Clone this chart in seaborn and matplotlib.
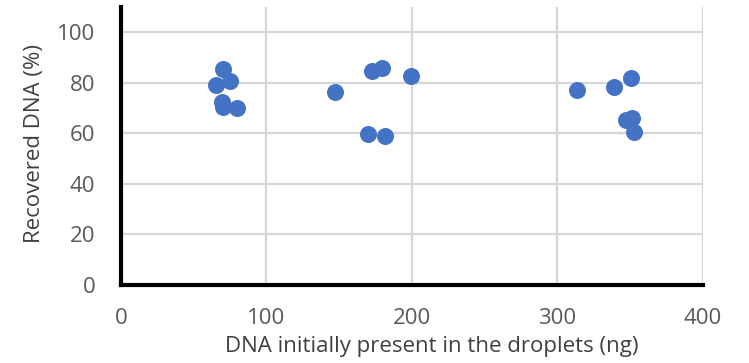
import matplotlib
matplotlib.use("Agg")
import matplotlib.pyplot as plt
import seaborn as sns
import pandas as pd

dna_initial_ng = [70.3, 65.5, 74.9, 69.4, 70.3, 79.5,
                  146.9, 172.7, 179.2, 199.3, 169.8, 181.7,
                  313.4, 339.0, 350.5, 346.9, 351.0, 352.4]
recovered_pct = [85.7, 79.3, 80.7, 72.5, 70.5, 70.1,
                 76.4, 84.6, 86.0, 82.9, 59.9, 59.0,
                 77.1, 78.5, 81.8, 65.4, 66.1, 60.4]
x_ticks = [0, 100, 200, 300, 400]
y_ticks = [0, 20, 40, 60, 80, 100]

df = pd.DataFrame({"x": dna_initial_ng, "y": recovered_pct})

sns.set_theme(style="white")
plt.rcParams['font.family'] = ['Open Sans', 'DejaVu Sans']

fig = plt.figure(figsize=(7.49, 3.63), dpi=100)
ax = fig.add_axes([0.1615, 0.2157, 0.9386 - 0.1615, 0.98 - 0.2157])

sns.scatterplot(data=df, x="x", y="y", ax=ax, s=150, color="#4472C4",
                edgecolor="#4472C4", linewidth=0, zorder=3)

ax.set_xlim(0, 400)
ax.set_ylim(0, 110)
ax.set_xticks(x_ticks)
ax.set_yticks(y_ticks)
ax.grid(True, color="#d6d6d6", linewidth=1.6, linestyle="-", zorder=0)
ax.set_axisbelow(True)

for s in ["top", "right"]:
    ax.spines[s].set_visible(False)
for s in ["left", "bottom"]:
    ax.spines[s].set_color("black")
    ax.spines[s].set_linewidth(3)
    ax.spines[s].set_zorder(4)

ax.tick_params(axis="both", length=0, labelsize=16, labelcolor="#595959")
ax.tick_params(axis="y", pad=18.5)
ax.tick_params(axis="x", pad=17)

ax.set_xlabel("DNA initially present in the droplets (ng)", fontsize=16,
              color="#404040")
ax.set_ylabel("Recovered DNA (%)", fontsize=16, color="#404040")
ax.xaxis.set_label_coords(0.534, -0.185)
ax.yaxis.set_label_coords(-0.1306, 0.51)

fig.savefig("out.png", dpi=100)
